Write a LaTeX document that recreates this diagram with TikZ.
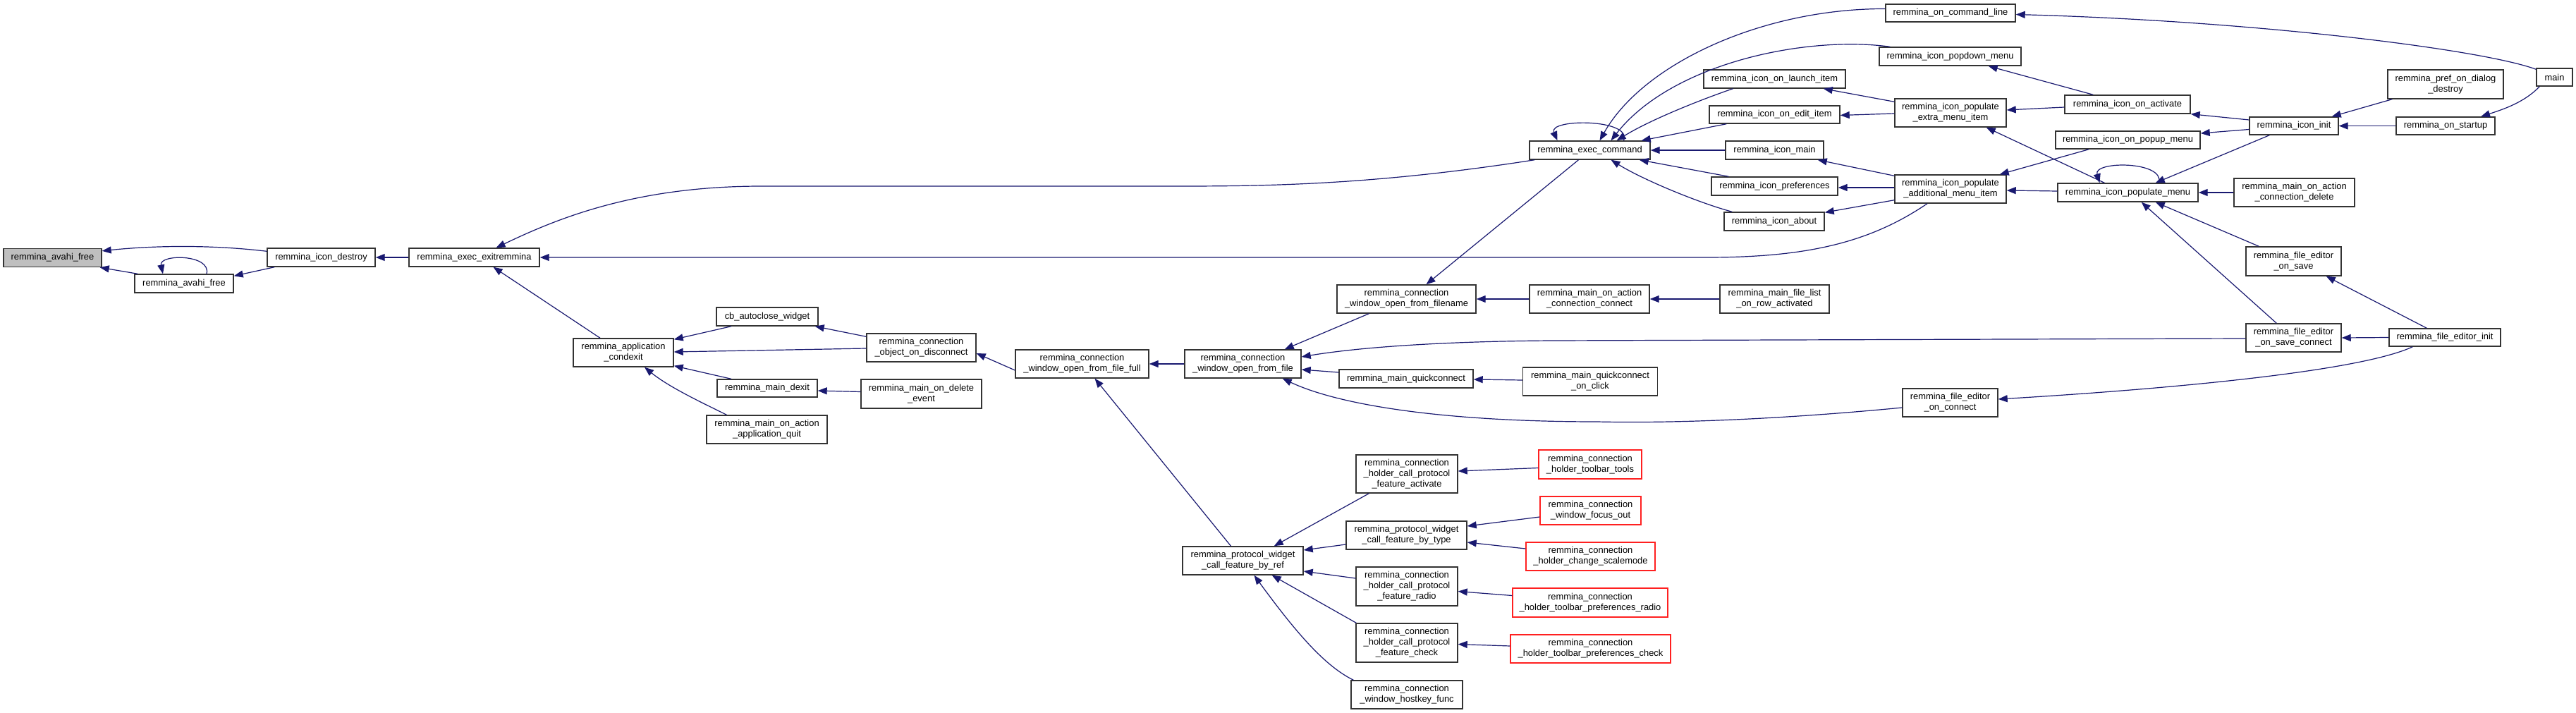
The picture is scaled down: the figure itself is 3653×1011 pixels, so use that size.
\documentclass[tikz,border=0pt]{standalone}
\usepackage{fontspec}
\setmainfont{Liberation Sans}
\usetikzlibrary{arrows.meta}
\definecolor{edgecol}{HTML}{191970}
\definecolor{nodeborder}{HTML}{333333}
\definecolor{grayfill}{HTML}{BFBFBF}
\definecolor{redborder}{HTML}{FF2020}
\begin{document}
\begin{tikzpicture}[x=1pt,y=-1pt,
  fn/.style={draw=nodeborder, line width=1.4pt, fill=white, rectangle, align=center,
    inner xsep=3pt, inner ysep=2pt, font=\fontsize{12.9}{15}\selectfont},
  grayn/.style={fn, fill=grayfill},
  redn/.style={fn, draw=redborder},
  callarrow/.style={draw=edgecol, line width=1.2pt, -{Triangle[length=13pt,width=10pt]}}
]
\fill[white] (0,0) rectangle (3653,1011);
\useasboundingbox (0,0) rectangle (3653,1011);

% ---------- nodes ----------
\node[grayn, minimum width=139pt, minimum height=26pt] (avahi) at (74.5,365.5) {remmina\_avahi\_free};
\node[fn, minimum width=140pt, minimum height=26pt] (avahi2) at (261,402) {remmina\_avahi\_free};
\node[fn, minimum width=153pt, minimum height=26pt] (destroy) at (455.5,365) {remmina\_icon\_destroy};
\node[fn, minimum width=185pt, minimum height=26pt] (exitr) at (672.5,365) {remmina\_exec\_exitremmina};
\node[fn, minimum width=142pt, minimum height=40pt] (condexit) at (884,500) {remmina\_application\\\_condexit};
\node[fn, minimum width=144pt, minimum height=26pt] (cbauto) at (1088,449) {cb\_autoclose\_widget};
\node[fn, minimum width=155pt, minimum height=40pt] (ondisc) at (1306.5,493) {remmina\_connection\\\_object\_on\_disconnect};
\node[fn, minimum width=142pt, minimum height=25pt] (dexit) at (1088,550.5) {remmina\_main\_dexit};
\node[fn, minimum width=171pt, minimum height=41pt] (ondelete) at (1306.5,558.5) {remmina\_main\_on\_delete\\\_event};
\node[fn, minimum width=171pt, minimum height=40pt] (appquit) at (1087.5,609) {remmina\_main\_on\_action\\\_application\_quit};
\node[fn, minimum width=189pt, minimum height=40pt] (fullf) at (1534.5,516) {remmina\_connection\\\_window\_open\_from\_file\_full};
\node[fn, minimum width=165pt, minimum height=40pt] (fromfile) at (1762.5,516) {remmina\_connection\\\_window\_open\_from\_file};
\node[fn, minimum width=197pt, minimum height=40pt] (filename) at (1994.5,424) {remmina\_connection\\\_window\_open\_from\_filename};
\node[fn, minimum width=170pt, minimum height=40pt] (connconn) at (2254,424) {remmina\_main\_on\_action\\\_connection\_connect};
\node[fn, minimum width=155pt, minimum height=40pt] (rowact) at (2516.5,424) {remmina\_main\_file\_list\\\_on\_row\_activated};
\node[fn, minimum width=190pt, minimum height=26pt] (quick) at (1994,537) {remmina\_main\_quickconnect};
\node[fn, minimum width=191pt, minimum height=40pt] (quickclick) at (2255,541) {remmina\_main\_quickconnect\\\_on\_click};
\node[fn, minimum width=171pt, minimum height=40pt] (byref) at (1762.5,795) {remmina\_protocol\_widget\\\_call\_feature\_by\_ref};
\node[fn, minimum width=144pt, minimum height=54pt] (factivate) at (1995,672) {remmina\_connection\\\_holder\_call\_protocol\\\_feature\_activate};
\node[fn, minimum width=171pt, minimum height=40pt] (bytype) at (1994.5,759) {remmina\_protocol\_widget\\\_call\_feature\_by\_type};
\node[fn, minimum width=144pt, minimum height=55pt] (fradio) at (1995,831.5) {remmina\_connection\\\_holder\_call\_protocol\\\_feature\_radio};
\node[fn, minimum width=144pt, minimum height=55pt] (fcheck) at (1995,911.5) {remmina\_connection\\\_holder\_call\_protocol\\\_feature\_check};
\node[fn, minimum width=158pt, minimum height=40pt] (hostkey) at (1995,985) {remmina\_connection\\\_window\_hostkey\_func};
\node[redn, minimum width=146pt, minimum height=41pt] (tools) at (2255,658.5) {remmina\_connection\\\_holder\_toolbar\_tools};
\node[redn, minimum width=143pt, minimum height=40pt] (focusout) at (2255.5,724) {remmina\_connection\\\_window\_focus\_out};
\node[redn, minimum width=183pt, minimum height=40pt] (scalemode) at (2255.5,789) {remmina\_connection\\\_holder\_change\_scalemode};
\node[redn, minimum width=220pt, minimum height=41pt] (prefradio) at (2255,854.5) {remmina\_connection\\\_holder\_toolbar\_preferences\_radio};
\node[redn, minimum width=227pt, minimum height=40pt] (prefcheck) at (2255.5,920) {remmina\_connection\\\_holder\_toolbar\_preferences\_check};
\node[fn, minimum width=171pt, minimum height=26pt] (execcmd) at (2254.5,213) {remmina\_exec\_command};
\node[fn, minimum width=184pt, minimum height=25pt] (cmdline) at (2766,18.5) {remmina\_on\_command\_line};
\node[fn, minimum width=201pt, minimum height=26pt] (popdown) at (2765.5,80) {remmina\_icon\_popdown\_menu};
\node[fn, minimum width=201pt, minimum height=26pt] (launch) at (2516.5,112) {remmina\_icon\_on\_launch\_item};
\node[fn, minimum width=185pt, minimum height=25pt] (edit) at (2516.5,162.5) {remmina\_icon\_on\_edit\_item};
\node[fn, minimum width=139pt, minimum height=26pt] (iconmain) at (2516.5,213) {remmina\_icon\_main};
\node[fn, minimum width=179pt, minimum height=26pt] (iconprefs) at (2516.5,264) {remmina\_icon\_preferences};
\node[fn, minimum width=142pt, minimum height=26pt] (about) at (2516,314) {remmina\_icon\_about};
\node[fn, minimum width=158pt, minimum height=40pt] (extra) at (2766,160) {remmina\_icon\_populate\\\_extra\_menu\_item};
\node[fn, minimum width=158pt, minimum height=40pt] (addl) at (2766,268) {remmina\_icon\_populate\\\_additional\_menu\_item};
\node[fn, minimum width=135pt, minimum height=40pt] (onconnect) at (2765.5,571) {remmina\_file\_editor\\\_on\_connect};
\node[fn, minimum width=178pt, minimum height=26pt] (activate) at (3017,148) {remmina\_icon\_on\_activate};
\node[fn, minimum width=205pt, minimum height=25pt] (popup) at (3017.5,198.5) {remmina\_icon\_on\_popup\_menu};
\node[fn, minimum width=199pt, minimum height=26pt] (popmenu) at (3017.5,273) {remmina\_icon\_populate\_menu};
\node[fn, minimum width=171pt, minimum height=40pt] (conndel) at (3253.5,273) {remmina\_main\_on\_action\\\_connection\_delete};
\node[fn, minimum width=126pt, minimum height=25pt] (init) at (3253,178.5) {remmina\_icon\_init};
\node[fn, minimum width=164pt, minimum height=41pt] (dialogdestroy) at (3468,119.5) {remmina\_pref\_on\_dialog\\\_destroy};
\node[fn, minimum width=140pt, minimum height=25pt] (startup) at (3468,178.5) {remmina\_on\_startup};
\node[fn, minimum width=51pt, minimum height=25pt] (main) at (3622.5,109.5) {main};
\node[fn, minimum width=135pt, minimum height=41pt] (onsave) at (3252.5,370.5) {remmina\_file\_editor\\\_on\_save};
\node[fn, minimum width=135pt, minimum height=40pt] (saveconn) at (3252.5,479) {remmina\_file\_editor\\\_on\_save\_connect};
\node[fn, minimum width=158pt, minimum height=25pt] (edinit) at (3467,478.5) {remmina\_file\_editor\_init};

% ---------- edges ----------
\draw[callarrow] ([yshift=-5pt]destroy.north west) .. controls (300,347) and (220,348) .. ([yshift=-4pt]avahi.north east);
\draw[callarrow] ([xshift=5pt]avahi2.north west) -- ([xshift=-3pt]avahi.south east);
\draw[callarrow] ([xshift=32pt]avahi2.north) .. controls (300,360) and (225,360) .. ([xshift=-30pt]avahi2.north);
\draw[callarrow] ([xshift=11pt]destroy.south west) -- ([yshift=-3pt]avahi2.north east);
\draw[callarrow] (exitr.west) -- (destroy.east);
\draw[callarrow] ([xshift=8pt]execcmd.south west) .. controls (1950,262) and (1800,264) .. (1670,264) -- (1080,264) .. controls (900,264) and (790,310) .. ([xshift=31pt]exitr.north);
\draw[callarrow] ([xshift=-33pt]addl.south) .. controls (2650,345) and (2560,365) .. (2420,365) -- (exitr.east);
\draw[callarrow] ([xshift=-33pt]condexit.north) -- ([xshift=27pt]exitr.south);
\draw[callarrow] ([xshift=-51pt]cbauto.south) -- ([yshift=-2pt]condexit.north east);
\draw[callarrow] ([yshift=-1pt]ondisc.west) -- ([yshift=1pt]condexit.east);
\draw[callarrow] ([xshift=-51pt]dexit.north) -- ([yshift=2pt]condexit.south east);
\draw[callarrow] ([xshift=-57pt]appquit.north) .. controls (1000,573) and (950,550) .. ([xshift=30pt]condexit.south);
\draw[callarrow] ([yshift=-5pt]ondisc.north west) -- ([xshift=-5pt]cbauto.south east);
\draw[callarrow] ([yshift=3pt]ondelete.west) -- ([yshift=-3.5pt]dexit.east);
\draw[callarrow] ([yshift=-9pt]fullf.west) -- ([yshift=-8pt]ondisc.east);
\draw[callarrow] (fromfile.west) -- (fullf.east);
\draw[callarrow] ([xshift=-17pt]byref.north) -- ([xshift=18pt]fullf.south);
\draw[callarrow] ([xshift=46pt]filename.south west) -- ([xshift=-24pt]fromfile.north east);
\draw[callarrow] ([xshift=-16pt]execcmd.south) -- ([xshift=28pt]filename.north);
\draw[callarrow] (connconn.west) -- (filename.east);
\draw[callarrow] (rowact.west) -- (connconn.east);
\draw[callarrow] ([yshift=-1pt]saveconn.west) -- (2200,483) .. controls (2050,484) and (1930,492) .. ([yshift=10pt]fromfile.east);
\draw[callarrow] ([yshift=9pt]quick.west) -- ([yshift=-8pt]fromfile.east);
\draw[callarrow] ([yshift=-7pt]onconnect.west) .. controls (2500,597) and (2350,600) .. (2265,598) .. controls (2050,598) and (1900,575) .. ([xshift=-27pt]fromfile.south east);
\draw[callarrow] ([yshift=2pt]quickclick.west) -- ([yshift=-1pt]quick.east);
\draw[callarrow] ([xshift=19pt]factivate.south west) -- ([xshift=-42pt]byref.north east);
\draw[callarrow] ([yshift=-13pt]bytype.west) -- ([yshift=15pt]byref.east);
\draw[callarrow] ([yshift=11.5pt]fradio.west) -- ([yshift=-15pt]byref.east);
\draw[callarrow] ([xshift=1pt]fcheck.north west) -- ([xshift=-45pt]byref.south east);
\draw[callarrow] ([xshift=4pt]hostkey.north west) .. controls (1880,945) and (1840,900) .. ([xshift=16pt]byref.south);
\draw[callarrow] ([yshift=-5pt]tools.west) -- ([yshift=4pt]factivate.east);
\draw[callarrow] ([yshift=-9pt]focusout.west) -- ([yshift=13pt]bytype.east);
\draw[callarrow] ([yshift=11pt]scalemode.west) -- ([yshift=-10pt]bytype.east);
\draw[callarrow] ([yshift=10pt]prefradio.west) -- ([yshift=-7pt]fradio.east);
\draw[callarrow] ([yshift=4pt]prefcheck.west) -- ([yshift=-2pt]fcheck.east);
\draw[callarrow] ([xshift=48pt]execcmd.north) .. controls (2315,168) and (2195,168) .. ([xshift=-46pt]execcmd.north);
\draw[callarrow] ([yshift=6pt]cmdline.west) .. controls (2500,12) and (2330,90) .. ([xshift=14pt]execcmd.north);
\draw[callarrow] ([xshift=16pt]popdown.north west) .. controls (2560,50) and (2370,90) .. ([xshift=30pt]execcmd.north);
\draw[callarrow] ([xshift=-59pt]launch.south) .. controls (2410,142) and (2340,170) .. ([xshift=38pt]execcmd.north);
\draw[callarrow] ([xshift=25pt]edit.south west) -- ([xshift=-13pt]execcmd.north east);
\draw[callarrow] (iconmain.west) -- (execcmd.east);
\draw[callarrow] ([xshift=25pt]iconprefs.north west) -- ([xshift=-16pt]execcmd.south east);
\draw[callarrow] ([xshift=12pt]about.north west) .. controls (2410,288) and (2330,255) .. ([xshift=30pt]execcmd.south);
\draw[callarrow] ([yshift=-5pt]extra.north west) -- ([xshift=-32pt]launch.south east);
\draw[callarrow] ([yshift=-1pt]extra.west) -- ([yshift=-1pt]edit.east);
\draw[callarrow] ([yshift=-2pt]addl.north west) -- ([xshift=-9pt]iconmain.south east);
\draw[callarrow] ([yshift=2pt]addl.west) -- ([yshift=-2pt]iconprefs.east);
\draw[callarrow] ([yshift=5pt]addl.south west) -- ([yshift=-1pt]about.north east);
\draw[callarrow] ([xshift=41pt]activate.north west) -- ([xshift=-47pt]popdown.south east);
\draw[callarrow] ([yshift=-4pt]activate.west) -- ([yshift=4pt]extra.east);
\draw[callarrow] ([xshift=67pt]popmenu.north west) -- ([xshift=-29pt]extra.south east);
\draw[callarrow] ([xshift=48pt]popup.south west) -- ([xshift=-10pt]addl.north east);
\draw[callarrow] ([yshift=2pt]popmenu.west) -- ([yshift=-2pt]addl.east);
\draw[callarrow] ([xshift=44pt]popmenu.north) .. controls (3070,228) and (2968,228) .. ([xshift=-40pt]popmenu.north);
\draw[callarrow] ([yshift=8.5pt]init.west) -- (activate.south east);
\draw[callarrow] ([yshift=-5pt]init.west) -- ([yshift=9.5pt]popup.east);
\draw[callarrow] ([xshift=29pt]init.south west) -- ([xshift=-61pt]popmenu.north east);
\draw[callarrow] (conndel.west) -- (popmenu.east);
\draw[callarrow] ([xshift=19pt]onsave.north west) -- ([xshift=-61pt]popmenu.south east);
\draw[callarrow] ([xshift=44pt]saveconn.north west) -- ([xshift=-81pt]popmenu.south east);
\draw[callarrow] ([xshift=7pt]dialogdestroy.south west) -- ([xshift=-10pt]init.north east);
\draw[callarrow] (startup.west) -- (init.east);
\draw[callarrow] ([xshift=5pt]main.south west) .. controls (3580,145) and (3550,155) .. ([xshift=50pt]startup.north);
\draw[callarrow] ([yshift=-2pt]main.north west) .. controls (3520,70) and (3200,30) .. ([yshift=-2pt]cmdline.east);
\draw[callarrow] ([xshift=54pt]edinit.north west) -- ([xshift=-22pt]onsave.south east);
\draw[callarrow] (edinit.west) -- (saveconn.east);
\draw[callarrow] ([xshift=34pt]edinit.south west) .. controls (3350,525) and (3100,550) .. ([yshift=5pt]onconnect.east);
\end{tikzpicture}
\end{document}
